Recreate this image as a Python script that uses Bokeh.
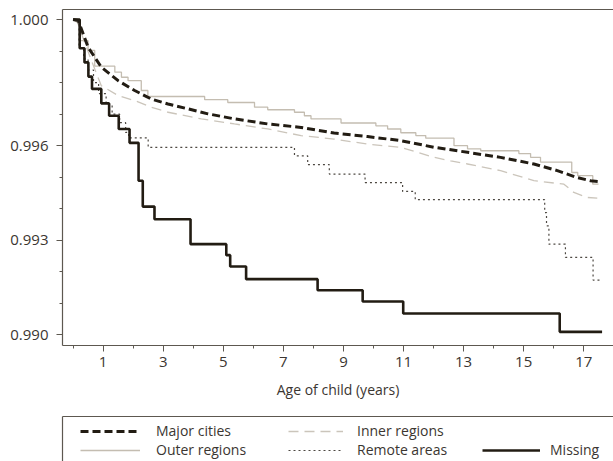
from bokeh.plotting import figure
from bokeh.models import (FixedTicker, PrintfTickFormatter, LinearAxis, Range1d,
                          Legend, LegendItem)
from bokeh.layouts import column
from bokeh.embed import file_html
from bokeh.resources import INLINE

# Survival (Kaplan-Meier) estimates by remoteness of residence
major_t = [0, 0.17, 0.50, 0.94, 1.50, 2.05, 2.60, 3.16, 3.82, 4.49, 5.37, 6.48, 7.59,
           8.69, 9.80, 10.91, 12.02, 13.13, 14.23, 15.34, 16.12, 16.78, 17.22, 17.56]
major_s = [1.0, 0.99997, 0.99912, 0.99849, 0.99806, 0.99775, 0.99748, 0.99732, 0.99717,
           0.99701, 0.99685, 0.99669, 0.99658, 0.99640, 0.99629, 0.99616, 0.99595, 0.99579,
           0.99563, 0.99542, 0.99521, 0.99499, 0.99489, 0.99486]

inner_t = [0, 0.15, 0.28, 0.61, 0.94, 1.50, 2.05, 2.60, 3.16, 4.27, 5.37, 6.48, 7.59,
           8.69, 9.80, 10.91, 12.02, 12.57, 13.13, 14.23, 15.34, 16.34, 16.67, 17.11, 17.45]
inner_s = [1.0, 0.99990, 0.99955, 0.99870, 0.99790, 0.99759, 0.99743, 0.99722, 0.99706,
           0.99685, 0.99669, 0.99653, 0.99632, 0.99621, 0.99605, 0.99595, 0.99563, 0.99552,
           0.99542, 0.99521, 0.99489, 0.99478, 0.99452, 0.99436, 0.99434]

outer_t = [0, 0.21, 0.50, 0.72, 1.39, 1.61, 1.83, 2.27, 2.49, 4.38, 5.15, 6.04, 6.48,
           7.37, 7.70, 7.92, 8.92, 10.08, 10.47, 10.91, 11.41, 11.74, 12.68, 13.13, 13.57,
           14.84, 15.23, 15.56, 16.60, 16.80, 17.30, 17.49]
outer_s = [1.0, 0.99933, 0.99902, 0.99852, 0.99833, 0.99817, 0.99806, 0.99775, 0.99756,
           0.99746, 0.99737, 0.99722, 0.99714, 0.99706, 0.99695, 0.99685, 0.99672, 0.99663,
           0.99653, 0.99641, 0.99632, 0.99624, 0.99600, 0.99590, 0.99584, 0.99575, 0.99563,
           0.99548, 0.99515, 0.99505, 0.99478, 0.99478]

remote_t = [0, 0.20, 0.35, 0.50, 0.68, 0.85, 1.10, 1.30, 1.55, 1.75, 1.85, 2.50, 7.37,
            7.81, 8.53, 9.72, 10.97, 11.39, 15.70, 15.76, 15.84, 16.39, 17.31, 17.61]
remote_s = [1.0, 0.99910, 0.99875, 0.99840, 0.99800, 0.99765, 0.99730, 0.99700, 0.99673,
            0.99642, 0.99625, 0.99595, 0.99568, 0.99540, 0.99510, 0.99483, 0.99455, 0.99429,
            0.99388, 0.99346, 0.99288, 0.99246, 0.99174, 0.99174]

missing_t = [0, 0.22, 0.38, 0.51, 0.63, 0.94, 1.20, 1.52, 1.88, 2.18, 2.32, 2.71, 3.91,
             5.10, 5.23, 5.76, 8.14, 9.64, 10.99, 16.20, 17.61]
missing_s = [1.0, 0.99909, 0.99864, 0.99819, 0.99780, 0.99734, 0.99695, 0.99653, 0.99609,
             0.99489, 0.99407, 0.99367, 0.99288, 0.99253, 0.99217, 0.99177, 0.99142, 0.99106,
             0.99068, 0.99010, 0.99010]

y_ticks = [0.990, 0.993, 0.996, 1.000]
y_minor = [0.991, 0.992, 0.994, 0.995, 0.997, 0.998, 0.999]
x_ticks = [1, 3, 5, 7, 9, 11, 13, 15, 17]
x_minor = [0, 2, 4, 6, 8, 10, 12, 14, 16]

FONT = "Open Sans"
TEXT = "#3b3631"
AXIS = "#5d5850"
DARK = "#221c13"
LIGHT_SOLID = "#c4bdb1"
LIGHT_DASH = "#cbc5bb"
DOTTED = "#4d4842"

styles = {
    "major": dict(line_color=DARK, line_width=3.0, line_dash="8 4"),
    "inner": dict(line_color=LIGHT_DASH, line_width=1.3, line_dash="10 6"),
    "outer": dict(line_color=LIGHT_SOLID, line_width=1.3),
    "remote": dict(line_color=DOTTED, line_width=1.2, line_dash="2 3"),
    "missing": dict(line_color=DARK, line_width=2.6),
}
series = {
    "major": (major_t, major_s),
    "inner": (inner_t, inner_s),
    "outer": (outer_t, outer_s),
    "remote": (remote_t, remote_s),
    "missing": (missing_t, missing_s),
}

p = figure(width=613, height=416, output_backend="svg", toolbar_location=None,
           x_range=Range1d(-0.352, 17.99), y_range=Range1d(0.989667, 1.000317),
           min_border_left=61, min_border_right=0, min_border_top=9, min_border_bottom=71)
p.grid.visible = False
p.outline_line_color = None
p.background_fill_color = "white"
p.border_fill_color = "white"

p.line(inner_t, inner_s, **styles["inner"])
p.step(outer_t, outer_s, mode="after", **styles["outer"])
p.step(remote_t, remote_s, mode="after", **styles["remote"])
p.line(major_t, major_s, **styles["major"])
p.step(missing_t, missing_s, mode="after", **styles["missing"])

for ax in (p.xaxis[0], p.yaxis[0]):
    ax.axis_line_color = AXIS
    ax.axis_line_width = 1.2
    ax.major_tick_line_color = AXIS
    ax.minor_tick_line_color = AXIS
    ax.major_tick_in = 0
    ax.major_tick_out = 6
    ax.minor_tick_in = 0
    ax.minor_tick_out = 3
    ax.major_label_text_font = FONT
    ax.major_label_text_font_size = "15px"
    ax.major_label_text_color = TEXT

p.xaxis.ticker = FixedTicker(ticks=x_ticks, minor_ticks=x_minor)
p.xaxis.major_label_standoff = 5
p.xaxis.axis_label = "Age of child (years)"
p.xaxis.axis_label_text_font = FONT
p.xaxis.axis_label_text_font_size = "14px"
p.xaxis.axis_label_text_font_style = "normal"
p.xaxis.axis_label_text_color = TEXT
p.xaxis.axis_label_standoff = 10

p.yaxis.ticker = FixedTicker(ticks=y_ticks, minor_ticks=y_minor)
p.yaxis.formatter = PrintfTickFormatter(format="%.3f")
p.yaxis.major_label_standoff = 8

# top edge of the plot box
top = LinearAxis(ticker=FixedTicker(ticks=[]), major_label_text_font_size="0px",
                 major_tick_out=0, minor_tick_out=0, major_label_standoff=0,
                 axis_line_color=AXIS, axis_line_width=1.2)
p.add_layout(top, "above")

# legend panel
leg = figure(width=613, height=45, output_backend="svg", toolbar_location=None,
             x_range=Range1d(0, 1), y_range=Range1d(0, 1),
             x_axis_type=None, y_axis_type=None,
             min_border_left=62, min_border_right=0, min_border_top=0, min_border_bottom=0)
leg.grid.visible = False
leg.outline_line_color = None
for side in ("above", "left"):
    edge = LinearAxis(ticker=FixedTicker(ticks=[]), major_label_text_font_size="0px",
                      major_tick_out=0, minor_tick_out=0, major_label_standoff=0,
                      axis_line_color=AXIS, axis_line_width=1.2)
    leg.add_layout(edge, side)

# hidden copies of the series supply the legend samples
r = {k: leg.line(*series[k], visible=False, **s) for k, s in styles.items()}


def make_legend(items, loc, glyph_w, standoff):
    return Legend(items=[LegendItem(label=lab, renderers=[r[k]]) for lab, k in items],
                  location=loc, orientation="vertical", padding=0, spacing=0, margin=0,
                  glyph_width=glyph_w, glyph_height=18, label_height=18,
                  label_standoff=standoff, border_line_alpha=0, background_fill_alpha=0,
                  label_text_font=FONT, label_text_font_size="14px",
                  label_text_color=TEXT, click_policy="none")


leg.add_layout(make_legend([("Major cities", "major"), ("Outer regions", "outer")],
                           (18, 2), 60, 16))
leg.add_layout(make_legend([("Inner regions", "inner"), ("Remote areas", "remote")],
                           (226, 2), 55, 14))
leg.add_layout(make_legend([("Missing", "missing")], (420, 2), 58, 10))

layout = column(p, leg, spacing=0)
open("out.html", "w").write(file_html(layout, INLINE))
